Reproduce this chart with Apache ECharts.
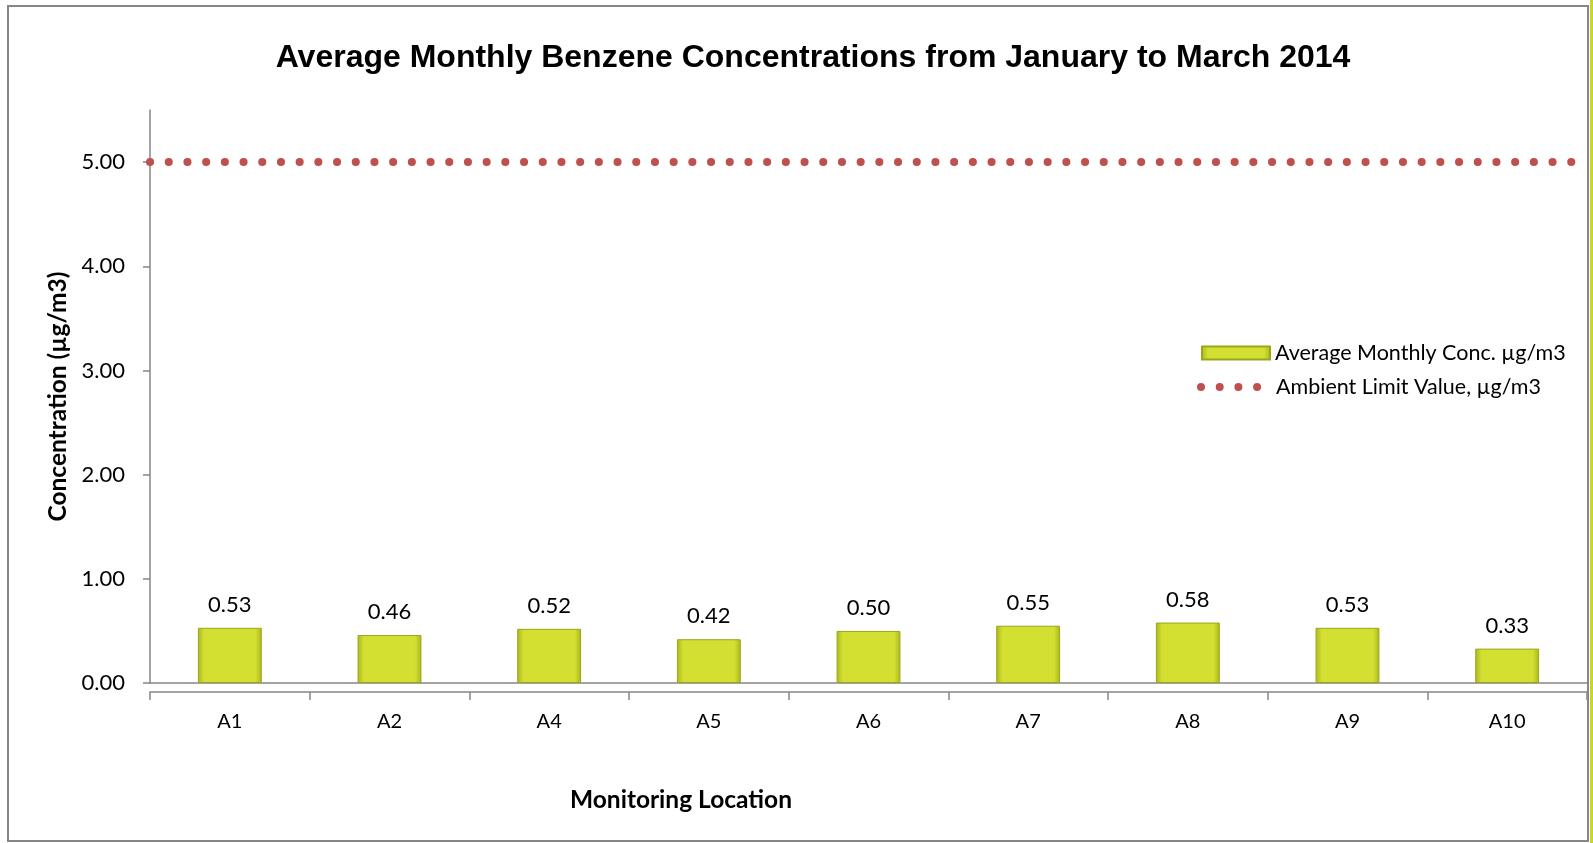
<!DOCTYPE html>
<html>
<head>
<meta charset="utf-8">
<script src="https://cdn.jsdelivr.net/npm/echarts@6/dist/echarts.min.js"></script>
<style>
  html, body { margin: 0; padding: 0; background: #fff; }
  #chart { width: 1593px; height: 843px; }
</style>
</head>
<body>
<div id="chart"></div>
<script>
var locations = ['A1', 'A2', 'A4', 'A5', 'A6', 'A7', 'A8', 'A9', 'A10'];
var avgConc = [0.53, 0.46, 0.52, 0.42, 0.50, 0.55, 0.58, 0.53, 0.33];
var limitValue = 5;
var yTicks = [0, 1, 2, 3, 4, 5];

var font = 'Lato';
var dom = document.getElementById('chart');
var myChart = echarts.init(dom);

// four round dots for the limit line legend entry (last tiny dot only pads the box)
var dotsIcon = 'path://' +
    'M0 4a4 4 0 1 0 8 0a4 4 0 1 0 -8 0Z' +
    'M18.7 4a4 4 0 1 0 8 0a4 4 0 1 0 -8 0Z' +
    'M37.4 4a4 4 0 1 0 8 0a4 4 0 1 0 -8 0Z' +
    'M56.1 4a4 4 0 1 0 8 0a4 4 0 1 0 -8 0Z' +
    'M73.9 4a0.05 0.05 0 1 0 0.1 0a0.05 0.05 0 1 0 -0.1 0Z';

var option = {
    animation: false,
    title: {
        text: 'Average Monthly Benzene Concentrations from January to March 2014',
        left: 808,
        textAlign: 'center',
        top: 37,
        textStyle: {
            fontFamily: 'Liberation Sans',
            fontWeight: 'bold',
            fontSize: 32,
            color: '#000'
        }
    },
    legend: [{
        left: 1196,
        top: 337,
        itemWidth: 68,
        itemHeight: 13,
        textStyle: { fontFamily: font, fontSize: 21.5, color: '#000' },
        data: [{ name: 'Average Monthly Conc. µg/m3', icon: 'rect' }]
    }, {
        left: 1192,
        top: 371,
        itemWidth: 74,
        itemHeight: 8,
        textStyle: { fontFamily: font, fontSize: 21.5, color: '#000' },
        data: [{ name: 'Ambient Limit Value, µg/m3', icon: dotsIcon, itemStyle: { color: '#c0504d' } }]
    }],
    graphic: [{
        type: 'rect',
        shape: { x: 8, y: 6, width: 1580, height: 835 },
        style: { fill: 'none', stroke: '#868686', lineWidth: 2 },
        silent: true
    }, {
        type: 'rect',
        shape: { x: 1590, y: 0, width: 3, height: 843 },
        style: { fill: '#c6d72a' },
        silent: true
    }, {
        type: 'text',
        left: 570,
        top: 788,
        style: {
            text: 'Monitoring Location',
            font: 'bold 24.5px ' + font,
            fill: '#000'
        }
    }],
    grid: {
        left: 150,
        right: 6,
        top: 110,
        bottom: 160
    },
    xAxis: [{
        type: 'category',
        data: locations,
        axisLine: { show: true, lineStyle: { color: '#868686', width: 1.5 } },
        axisTick: { show: false },
        axisLabel: { show: false }
    }, {
        type: 'category',
        data: locations,
        position: 'bottom',
        offset: 9,
        axisLine: { show: true, lineStyle: { color: '#868686', width: 1.5 } },
        axisTick: { show: true, length: 8, lineStyle: { color: '#868686', width: 1.5 } },
        axisLabel: { margin: 20, fontFamily: font, fontSize: 20, color: '#000' }
    }, {
        type: 'category',
        data: ['', ''],
        boundaryGap: false,
        show: false
    }],
    yAxis: {
        type: 'value',
        min: 0,
        max: 5.5,
        interval: 1,
        name: 'Concentration (µg/m3)',
        nameLocation: 'middle',
        nameGap: 74,
        nameTextStyle: { fontFamily: font, fontSize: 24.5, fontWeight: 'bold', color: '#000' },
        axisLine: { show: true, lineStyle: { color: '#868686', width: 1.5 } },
        axisTick: { show: true, length: 7, customValues: yTicks, lineStyle: { color: '#868686', width: 1.5 } },
        axisLabel: {
            margin: 25,
            customValues: yTicks,
            fontFamily: font,
            fontSize: 22,
            color: '#000',
            formatter: function (v) { return v.toFixed(2); }
        },
        splitLine: { show: false }
    },
    series: [{
        name: 'Average Monthly Conc. µg/m3',
        type: 'bar',
        xAxisIndex: 0,
        barWidth: '40%',
        data: avgConc,
        itemStyle: {
            color: new echarts.graphic.LinearGradient(0, 0, 1, 0, [
                { offset: 0, color: '#a9b71e' },
                { offset: 0.1, color: '#d3e032' },
                { offset: 0.9, color: '#d3e032' },
                { offset: 1, color: '#a9b71e' }
            ]),
            borderColor: '#9aa61a',
            borderWidth: 1
        },
        label: {
            show: true,
            position: 'top',
            distance: 12,
            fontFamily: font,
            fontSize: 22,
            color: '#000',
            formatter: function (p) { return p.value.toFixed(2); }
        }
    }, {
        name: 'Ambient Limit Value, µg/m3',
        type: 'line',
        xAxisIndex: 2,
        data: [limitValue, limitValue],
        showSymbol: false,
        symbol: 'none',
        color: '#c0504d',
        lineStyle: { color: '#c0504d', width: 8, type: [0.1, 18.6], cap: 'round' }
    }]
};
myChart.setOption(option, true);
</script>
</body>
</html>
